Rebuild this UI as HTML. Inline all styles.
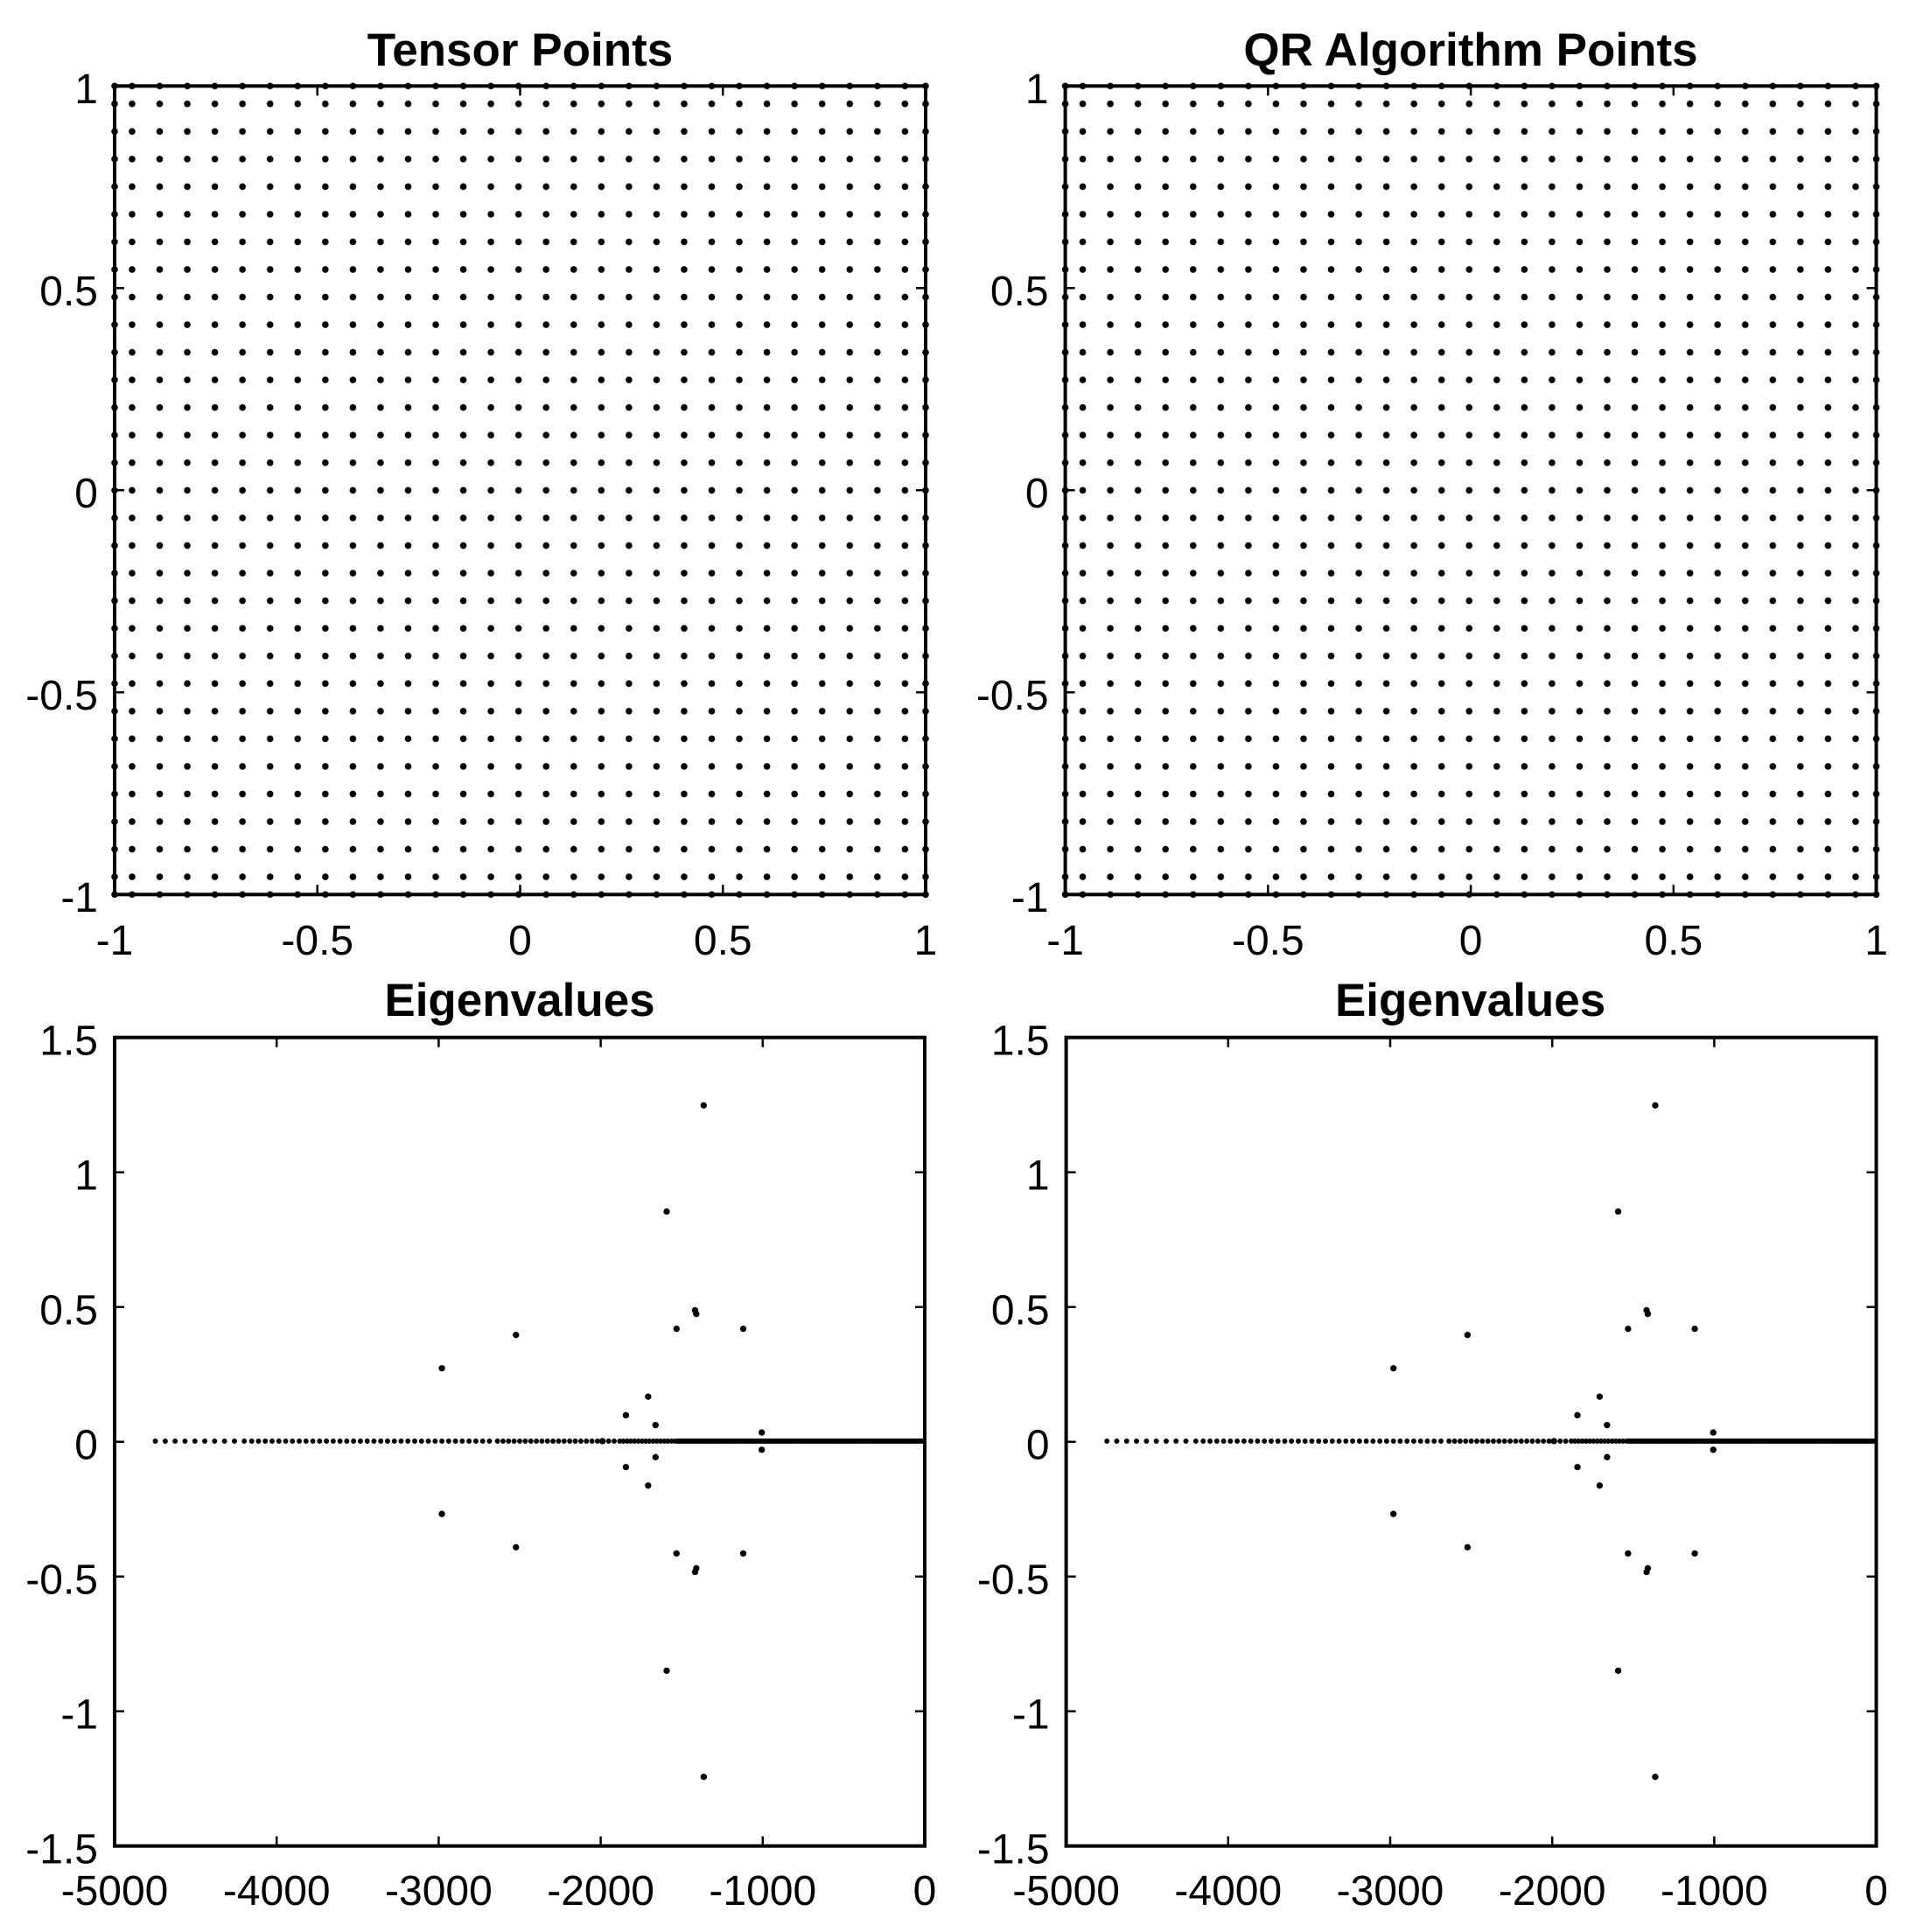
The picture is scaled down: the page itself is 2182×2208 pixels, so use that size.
<!DOCTYPE html>
<html><head><meta charset="utf-8"><style>
html,body{margin:0;padding:0;background:#fff;}
svg{display:block;}
text{font-family:"Liberation Sans",Arial,sans-serif;fill:#000;}
.t{font-size:53px;font-weight:bold;text-anchor:middle;}
.l{font-size:48px;}
.ly{text-anchor:end;}
.lx{text-anchor:middle;}
</style></head><body>
<svg width="2182" height="2208" viewBox="0 0 2182 2208" xmlns="http://www.w3.org/2000/svg">
<defs>
<pattern id="g" x="0" y="0" width="31.55" height="31.55" patternUnits="userSpaceOnUse"><circle cx="15.775" cy="15.775" r="3.8" fill="#000"/></pattern>
<pattern id="gx" x="0" y="0" width="31.55" height="10" patternUnits="userSpaceOnUse"><circle cx="15.775" cy="5" r="3.8" fill="#000"/></pattern>
<pattern id="gy" x="0" y="0" width="10" height="31.55" patternUnits="userSpaceOnUse"><circle cx="5" cy="15.775" r="3.8" fill="#000"/></pattern>
<g id="grid">
  <g transform="translate(135.2,102.9)"><rect width="914.95" height="914.95" fill="url(#g)"/></g>
  <g transform="translate(135.2,93.3)"><rect width="914.95" height="10" fill="url(#gx)"/></g>
  <g transform="translate(135.2,1017.3)"><rect width="914.95" height="10" fill="url(#gx)"/></g>
  <g transform="translate(126,102.9)"><rect width="10" height="914.95" fill="url(#gy)"/></g>
  <g transform="translate(1053,102.9)"><rect width="10" height="914.95" fill="url(#gy)"/></g>
  <circle cx="131" cy="98.3" r="3.8"/><circle cx="1058" cy="98.3" r="3.8"/>
  <circle cx="131" cy="1022.3" r="3.8"/><circle cx="1058" cy="1022.3" r="3.8"/>
  <rect x="131" y="98.3" width="927" height="924" fill="none" stroke="#000" stroke-width="4"/>
  <g stroke="#000" stroke-width="2.5">
    <path d="M362.75 98.3v11M594.5 98.3v11M826.25 98.3v11M362.75 1022.3v-11M594.5 1022.3v-11M826.25 1022.3v-11"/>
    <path d="M131 329.3h11M131 560.3h11M131 791.3h11M1058 329.3h-11M1058 560.3h-11M1058 791.3h-11"/>
  </g>
  <g class="l">
    <text class="ly" x="112" y="118">1</text>
    <text class="ly" x="112" y="349">0.5</text>
    <text class="ly" x="112" y="580">0</text>
    <text class="ly" x="112" y="811">-0.5</text>
    <text class="ly" x="112" y="1042">-1</text>
    <text class="lx" x="131" y="1091">-1</text>
    <text class="lx" x="362.75" y="1091">-0.5</text>
    <text class="lx" x="594.5" y="1091">0</text>
    <text class="lx" x="826.25" y="1091">0.5</text>
    <text class="lx" x="1058" y="1091">1</text>
  </g>
</g>
<g id="eig">
  <rect x="131" y="1185.7" width="926" height="924" fill="none" stroke="#000" stroke-width="4"/>
  <g stroke="#000" stroke-width="2.5">
    <path d="M316.2 1185.7v11M501.4 1185.7v11M686.6 1185.7v11M871.8 1185.7v11M316.2 2109.7v-11M501.4 2109.7v-11M686.6 2109.7v-11M871.8 2109.7v-11"/>
    <path d="M131 1339.7h11M131 1493.7h11M131 1647.7h11M131 1801.7h11M131 1955.7h11M1057 1339.7h-11M1057 1493.7h-11M1057 1647.7h-11M1057 1801.7h-11M1057 1955.7h-11"/>
  </g>
  <g class="l">
    <text class="ly" x="112" y="1205.7">1.5</text>
    <text class="ly" x="112" y="1359.7">1</text>
    <text class="ly" x="112" y="1513.7">0.5</text>
    <text class="ly" x="112" y="1667.7">0</text>
    <text class="ly" x="112" y="1821.7">-0.5</text>
    <text class="ly" x="112" y="1975.7">-1</text>
    <text class="ly" x="112" y="2129.7">-1.5</text>
    <text class="lx" x="131" y="2177">-5000</text>
    <text class="lx" x="316.2" y="2177">-4000</text>
    <text class="lx" x="501.4" y="2177">-3000</text>
    <text class="lx" x="686.6" y="2177">-2000</text>
    <text class="lx" x="871.8" y="2177">-1000</text>
    <text class="lx" x="1057" y="2177">0</text>
  </g>
  <g transform="translate(131,1185.7) scale(1.4116,1.4107) translate(-93,-842)">
    <g stroke="#000" stroke-linecap="round" stroke-width="4.2" fill="none">
      <path d="M126 1169H200" stroke-dasharray="0 8"/>
      <path d="M204 1169H400" stroke-dasharray="0 5.5"/>
      <path d="M403 1169H500" stroke-dasharray="0 4.5"/>
      <path d="M502 1169H749" stroke-dasharray="0 3"/>
      <path d="M548 1169H749" stroke-width="4" stroke-linecap="butt"/>
    </g>
    <g fill="#000">
      <circle cx="570" cy="897" r="2.6"/><circle cx="540" cy="983" r="2.6"/>
      <circle cx="563" cy="1063" r="2.6"/><circle cx="564" cy="1066" r="2.6"/>
      <circle cx="548" cy="1078" r="2.6"/><circle cx="602" cy="1078" r="2.6"/>
      <circle cx="418" cy="1083" r="2.6"/><circle cx="358" cy="1110" r="2.6"/>
      <circle cx="525" cy="1133" r="2.6"/><circle cx="507" cy="1148" r="2.6"/>
      <circle cx="531" cy="1156" r="2.6"/><circle cx="617" cy="1162" r="2.6"/>
      <circle cx="488" cy="1169" r="2.6"/>
      <circle cx="570" cy="1441" r="2.6"/><circle cx="540" cy="1355" r="2.6"/>
      <circle cx="563" cy="1275" r="2.6"/><circle cx="564" cy="1272" r="2.6"/>
      <circle cx="548" cy="1260" r="2.6"/><circle cx="602" cy="1260" r="2.6"/>
      <circle cx="418" cy="1255" r="2.6"/><circle cx="358" cy="1228" r="2.6"/>
      <circle cx="525" cy="1205" r="2.6"/><circle cx="507" cy="1190" r="2.6"/>
      <circle cx="531" cy="1182" r="2.6"/><circle cx="617" cy="1176" r="2.6"/>
    </g>
  </g>
</g>
</defs>
<text class="t" x="594.5" y="75">Tensor Points</text>
<text class="t" x="1681" y="75">QR Algorithm Points</text>
<text class="t" x="594" y="1161">Eigenvalues</text>
<text class="t" x="1680.6" y="1161">Eigenvalues</text>
<use href="#grid"/>
<use href="#grid" transform="translate(1086.6,0)"/>
<use href="#eig"/>
<use href="#eig" transform="translate(1087.6,0)"/>
</svg>
</body></html>
